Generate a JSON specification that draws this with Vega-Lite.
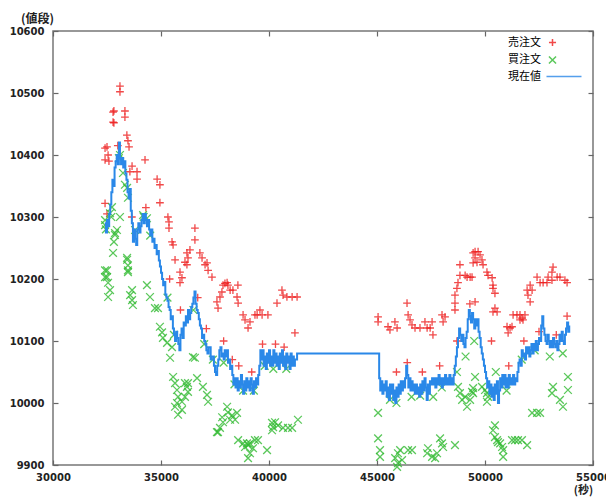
{
  "$schema": "https://vega.github.io/schema/vega-lite/v6.json",
  "width": 540,
  "height": 434,
  "autosize": {"type": "none"},
  "padding": {"left": 53, "top": 31, "right": 13, "bottom": 32},
  "background": "white",
  "config": {
    "view": {"stroke": "#777777", "strokeWidth": 1.5},
    "axis": {"grid": false, "domain": false, "tickColor": "#666666", "tickWidth": 1.2, "labelFont": "DejaVu Sans", "labelFontWeight": "bold", "labelFontSize": 10, "labelColor": "#222222"}
  },
  "datasets": {
    "orders": [
      {"t":32410,"p":10322,"s":"売注文"},{"t":32410,"p":10411,"s":"売注文"},{"t":32500,"p":10413,"s":"売注文"},{"t":32550,"p":10400,"s":"売注文"},{"t":32410,"p":10392,"s":"売注文"},{"t":32590,"p":10390,"s":"売注文"},{"t":32780,"p":10469,"s":"売注文"},{"t":32780,"p":10453,"s":"売注文"},{"t":32820,"p":10471,"s":"売注文"},{"t":32820,"p":10452,"s":"売注文"},{"t":33100,"p":10511,"s":"売注文"},{"t":33100,"p":10502,"s":"売注文"},{"t":33330,"p":10471,"s":"売注文"},{"t":33330,"p":10461,"s":"売注文"},{"t":33420,"p":10432,"s":"売注文"},{"t":33470,"p":10423,"s":"売注文"},{"t":33520,"p":10413,"s":"売注文"},{"t":33560,"p":10373,"s":"売注文"},{"t":33660,"p":10382,"s":"売注文"},{"t":33890,"p":10373,"s":"売注文"},{"t":33890,"p":10361,"s":"売注文"},{"t":34260,"p":10392,"s":"売注文"},{"t":34820,"p":10361,"s":"売注文"},{"t":34950,"p":10352,"s":"売注文"},{"t":34950,"p":10323,"s":"売注文"},{"t":35320,"p":10300,"s":"売注文"},{"t":35370,"p":10292,"s":"売注文"},{"t":35370,"p":10282,"s":"売注文"},{"t":35510,"p":10260,"s":"売注文"},{"t":35560,"p":10255,"s":"売注文"},{"t":35650,"p":10231,"s":"売注文"},{"t":35880,"p":10211,"s":"売注文"},{"t":35970,"p":10202,"s":"売注文"},{"t":35880,"p":10194,"s":"売注文"},{"t":36110,"p":10227,"s":"売注文"},{"t":36200,"p":10242,"s":"売注文"},{"t":36250,"p":10234,"s":"売注文"},{"t":36200,"p":10223,"s":"売注文"},{"t":36340,"p":10247,"s":"売注文"},{"t":36570,"p":10282,"s":"売注文"},{"t":36570,"p":10263,"s":"売注文"},{"t":36800,"p":10242,"s":"売注文"},{"t":36900,"p":10234,"s":"売注文"},{"t":37040,"p":10223,"s":"売注文"},{"t":37130,"p":10226,"s":"売注文"},{"t":37180,"p":10214,"s":"売注文"},{"t":37360,"p":10203,"s":"売注文"},{"t":37590,"p":10163,"s":"売注文"},{"t":37640,"p":10153,"s":"売注文"},{"t":37820,"p":10179,"s":"売注文"},{"t":37730,"p":10171,"s":"売注文"},{"t":37870,"p":10190,"s":"売注文"},{"t":38060,"p":10194,"s":"売注文"},{"t":37960,"p":10193,"s":"売注文"},{"t":38100,"p":10190,"s":"売注文"},{"t":38200,"p":10182,"s":"売注文"},{"t":38330,"p":10182,"s":"売注文"},{"t":38560,"p":10190,"s":"売注文"},{"t":38520,"p":10171,"s":"売注文"},{"t":38570,"p":10161,"s":"売注文"},{"t":38800,"p":10142,"s":"売注文"},{"t":38890,"p":10134,"s":"売注文"},{"t":39120,"p":10131,"s":"売注文"},{"t":39030,"p":10121,"s":"売注文"},{"t":39350,"p":10142,"s":"売注文"},{"t":39450,"p":10142,"s":"売注文"},{"t":39580,"p":10150,"s":"売注文"},{"t":39680,"p":10142,"s":"売注文"},{"t":39950,"p":10142,"s":"売注文"},{"t":40370,"p":10161,"s":"売注文"},{"t":40600,"p":10182,"s":"売注文"},{"t":40650,"p":10174,"s":"売注文"},{"t":40830,"p":10171,"s":"売注文"},{"t":41070,"p":10171,"s":"売注文"},{"t":41300,"p":10171,"s":"売注文"},{"t":41200,"p":10113,"s":"売注文"},
      {"t":32500,"p":10305,"s":"売注文"},{"t":33000,"p":10415,"s":"売注文"},{"t":33650,"p":10300,"s":"売注文"},{"t":34300,"p":10315,"s":"売注文"},{"t":35400,"p":10200,"s":"売注文"},{"t":35900,"p":10150,"s":"売注文"},{"t":36700,"p":10170,"s":"売注文"},{"t":37100,"p":10120,"s":"売注文"},{"t":37900,"p":10100,"s":"売注文"},{"t":38300,"p":10070,"s":"売注文"},{"t":38600,"p":10060,"s":"売注文"},{"t":39200,"p":10050,"s":"売注文"},{"t":39700,"p":10095,"s":"売注文"},{"t":40300,"p":10095,"s":"売注文"},{"t":40700,"p":10090,"s":"売注文"},
      {"t":45050,"p":10139,"s":"売注文"},{"t":45050,"p":10131,"s":"売注文"},{"t":45510,"p":10123,"s":"売注文"},{"t":45600,"p":10118,"s":"売注文"},{"t":45830,"p":10131,"s":"売注文"},{"t":45930,"p":10121,"s":"売注文"},{"t":46390,"p":10161,"s":"売注文"},{"t":46440,"p":10142,"s":"売注文"},{"t":46530,"p":10134,"s":"売注文"},{"t":46620,"p":10126,"s":"売注文"},{"t":46760,"p":10121,"s":"売注文"},{"t":46990,"p":10121,"s":"売注文"},{"t":47220,"p":10131,"s":"売注文"},{"t":47320,"p":10121,"s":"売注文"},{"t":47460,"p":10121,"s":"売注文"},{"t":47590,"p":10110,"s":"売注文"},{"t":47550,"p":10131,"s":"売注文"},{"t":48010,"p":10142,"s":"売注文"},{"t":48150,"p":10139,"s":"売注文"},{"t":48060,"p":10131,"s":"売注文"},{"t":48610,"p":10174,"s":"売注文"},{"t":48610,"p":10161,"s":"売注文"},{"t":48610,"p":10150,"s":"売注文"},{"t":48700,"p":10185,"s":"売注文"},{"t":48750,"p":10194,"s":"売注文"},{"t":48840,"p":10206,"s":"売注文"},{"t":48840,"p":10223,"s":"売注文"},{"t":49080,"p":10206,"s":"売注文"},{"t":49170,"p":10203,"s":"売注文"},{"t":49310,"p":10203,"s":"売注文"},{"t":49400,"p":10203,"s":"売注文"},{"t":49450,"p":10242,"s":"売注文"},{"t":49540,"p":10234,"s":"売注文"},{"t":49630,"p":10227,"s":"売注文"},{"t":49450,"p":10226,"s":"売注文"},{"t":49540,"p":10244,"s":"売注文"},{"t":49680,"p":10244,"s":"売注文"},{"t":49770,"p":10239,"s":"売注文"},{"t":49860,"p":10231,"s":"売注文"},{"t":49910,"p":10223,"s":"売注文"},{"t":50090,"p":10211,"s":"売注文"},{"t":50140,"p":10206,"s":"売注文"},{"t":50330,"p":10202,"s":"売注文"},{"t":50370,"p":10190,"s":"売注文"},{"t":50370,"p":10185,"s":"売注文"},{"t":50460,"p":10177,"s":"売注文"},{"t":49540,"p":10163,"s":"売注文"},{"t":50460,"p":10153,"s":"売注文"},{"t":50560,"p":10147,"s":"売注文"},{"t":50370,"p":10147,"s":"売注文"},{"t":51300,"p":10142,"s":"売注文"},{"t":51480,"p":10142,"s":"売注文"},{"t":51620,"p":10142,"s":"売注文"},{"t":51710,"p":10137,"s":"売注文"},{"t":51850,"p":10142,"s":"売注文"},{"t":51760,"p":10134,"s":"売注文"},{"t":51620,"p":10134,"s":"売注文"},{"t":51020,"p":10123,"s":"売注文"},{"t":51160,"p":10121,"s":"売注文"},{"t":51250,"p":10123,"s":"売注文"},{"t":51070,"p":10113,"s":"売注文"},{"t":51950,"p":10182,"s":"売注文"},{"t":51990,"p":10174,"s":"売注文"},{"t":52090,"p":10163,"s":"売注文"},{"t":52180,"p":10182,"s":"売注文"},{"t":52090,"p":10190,"s":"売注文"},{"t":52410,"p":10203,"s":"売注文"},{"t":52550,"p":10194,"s":"売注文"},{"t":52690,"p":10194,"s":"売注文"},{"t":52870,"p":10194,"s":"売注文"},{"t":52920,"p":10203,"s":"売注文"},{"t":53100,"p":10211,"s":"売注文"},{"t":53150,"p":10219,"s":"売注文"},{"t":53340,"p":10203,"s":"売注文"},{"t":53470,"p":10203,"s":"売注文"},{"t":53700,"p":10198,"s":"売注文"},{"t":53800,"p":10194,"s":"売注文"},{"t":53100,"p":10198,"s":"売注文"},
      {"t":45900,"p":10050,"s":"売注文"},{"t":46400,"p":10065,"s":"売注文"},{"t":47100,"p":10050,"s":"売注文"},{"t":47900,"p":10060,"s":"売注文"},{"t":48700,"p":10100,"s":"売注文"},{"t":49300,"p":10160,"s":"売注文"},{"t":50300,"p":10100,"s":"売注文"},{"t":51100,"p":10060,"s":"売注文"},{"t":51800,"p":10100,"s":"売注文"},{"t":52500,"p":10115,"s":"売注文"},{"t":53300,"p":10110,"s":"売注文"},{"t":53800,"p":10140,"s":"売注文"},
      {"t":33100,"p":10400,"s":"買注文"},{"t":33240,"p":10371,"s":"買注文"},{"t":33330,"p":10352,"s":"買注文"},{"t":33430,"p":10347,"s":"買注文"},{"t":33470,"p":10331,"s":"買注文"},{"t":32730,"p":10316,"s":"買注文"},{"t":32640,"p":10306,"s":"買注文"},{"t":33100,"p":10300,"s":"買注文"},{"t":32410,"p":10295,"s":"買注文"},{"t":32410,"p":10287,"s":"買注文"},{"t":32960,"p":10279,"s":"買注文"},{"t":32870,"p":10271,"s":"買注文"},{"t":32820,"p":10260,"s":"買注文"},{"t":32780,"p":10242,"s":"買注文"},{"t":32410,"p":10214,"s":"買注文"},{"t":32410,"p":10203,"s":"買注文"},{"t":33430,"p":10231,"s":"買注文"},{"t":33470,"p":10214,"s":"買注文"},{"t":33800,"p":10279,"s":"買注文"},{"t":34170,"p":10303,"s":"買注文"},{"t":34350,"p":10298,"s":"買注文"},{"t":32870,"p":10274,"s":"買注文"},{"t":32500,"p":10214,"s":"買注文"},{"t":32500,"p":10203,"s":"買注文"},{"t":32550,"p":10194,"s":"買注文"},{"t":32640,"p":10182,"s":"買注文"},{"t":32550,"p":10171,"s":"買注文"},{"t":33430,"p":10234,"s":"買注文"},{"t":33470,"p":10222,"s":"買注文"},{"t":33470,"p":10211,"s":"買注文"},{"t":33660,"p":10182,"s":"買注文"},{"t":33570,"p":10174,"s":"買注文"},{"t":33660,"p":10166,"s":"買注文"},{"t":33700,"p":10158,"s":"買注文"},{"t":34350,"p":10190,"s":"買注文"},{"t":34490,"p":10171,"s":"買注文"},{"t":34720,"p":10153,"s":"買注文"},{"t":34860,"p":10153,"s":"買注文"},{"t":34950,"p":10123,"s":"買注文"},{"t":35050,"p":10114,"s":"買注文"},{"t":35090,"p":10105,"s":"買注文"},{"t":35280,"p":10097,"s":"買注文"},{"t":35510,"p":10090,"s":"買注文"},{"t":35420,"p":10073,"s":"買注文"},{"t":35560,"p":10042,"s":"買注文"},{"t":35650,"p":10032,"s":"買注文"},{"t":35740,"p":10021,"s":"買注文"},{"t":35790,"p":10010,"s":"買注文"},{"t":35740,"p":10000,"s":"買注文"},{"t":35970,"p":10002,"s":"買注文"},{"t":36110,"p":10032,"s":"買注文"},{"t":36250,"p":10032,"s":"買注文"},{"t":36480,"p":10074,"s":"買注文"},{"t":35650,"p":9994,"s":"買注文"},{"t":35790,"p":9981,"s":"買注文"},{"t":35970,"p":9989,"s":"買注文"},{"t":36200,"p":10026,"s":"買注文"},{"t":36250,"p":10018,"s":"買注文"},{"t":36110,"p":10010,"s":"買注文"},{"t":36570,"p":10073,"s":"買注文"},{"t":36670,"p":10040,"s":"買注文"},{"t":36940,"p":10026,"s":"買注文"},{"t":37130,"p":10013,"s":"買注文"},{"t":37180,"p":10002,"s":"買注文"},{"t":37590,"p":9953,"s":"買注文"},{"t":37830,"p":9977,"s":"買注文"},{"t":37870,"p":9969,"s":"買注文"},{"t":38060,"p":9994,"s":"買注文"},{"t":38200,"p":9973,"s":"買注文"},{"t":38430,"p":9973,"s":"買注文"},{"t":38520,"p":9984,"s":"買注文"},{"t":38570,"p":9940,"s":"買注文"},{"t":38800,"p":9935,"s":"買注文"},{"t":38980,"p":9935,"s":"買注文"},{"t":39120,"p":9935,"s":"買注文"},{"t":39260,"p":9927,"s":"買注文"},{"t":39350,"p":9940,"s":"買注文"},{"t":39490,"p":9940,"s":"買注文"},{"t":39030,"p":9911,"s":"買注文"},{"t":39120,"p":9919,"s":"買注文"},{"t":39030,"p":9932,"s":"買注文"},{"t":38890,"p":9929,"s":"買注文"},{"t":39910,"p":9924,"s":"買注文"},{"t":40140,"p":9968,"s":"買注文"},{"t":40140,"p":9956,"s":"買注文"},{"t":40190,"p":9961,"s":"買注文"},{"t":40280,"p":9969,"s":"買注文"},{"t":40420,"p":9964,"s":"買注文"},{"t":40650,"p":9960,"s":"買注文"},{"t":40880,"p":9960,"s":"買注文"},{"t":41070,"p":9960,"s":"買注文"},{"t":41340,"p":9973,"s":"買注文"},{"t":37730,"p":9960,"s":"買注文"},{"t":37640,"p":9953,"s":"買注文"},{"t":38100,"p":9985,"s":"買注文"},{"t":38290,"p":9980,"s":"買注文"},
      {"t":32450,"p":10280,"s":"買注文"},{"t":32700,"p":10300,"s":"買注文"},{"t":33050,"p":10395,"s":"買注文"},{"t":34200,"p":10300,"s":"買注文"},{"t":34500,"p":10270,"s":"買注文"},{"t":35300,"p":10170,"s":"買注文"},{"t":35600,"p":10110,"s":"買注文"},{"t":36500,"p":10150,"s":"買注文"},{"t":37000,"p":10095,"s":"買注文"},{"t":37400,"p":10070,"s":"買注文"},{"t":37900,"p":10065,"s":"買注文"},{"t":38400,"p":10030,"s":"買注文"},{"t":38800,"p":10020,"s":"買注文"},{"t":39300,"p":10020,"s":"買注文"},{"t":39800,"p":10060,"s":"買注文"},{"t":40200,"p":10055,"s":"買注文"},{"t":40800,"p":10055,"s":"買注文"},
      {"t":45050,"p":9984,"s":"買注文"},{"t":45050,"p":9943,"s":"買注文"},{"t":45140,"p":9924,"s":"買注文"},{"t":45140,"p":9913,"s":"買注文"},{"t":45840,"p":9911,"s":"買注文"},{"t":45970,"p":9919,"s":"買注文"},{"t":46070,"p":9924,"s":"買注文"},{"t":46160,"p":9908,"s":"買注文"},{"t":45970,"p":9903,"s":"買注文"},{"t":45930,"p":9897,"s":"買注文"},{"t":46440,"p":9924,"s":"買注文"},{"t":46620,"p":9924,"s":"買注文"},{"t":47320,"p":9919,"s":"買注文"},{"t":47360,"p":9927,"s":"買注文"},{"t":47550,"p":9913,"s":"買注文"},{"t":47690,"p":9911,"s":"買注文"},{"t":47780,"p":9919,"s":"買注文"},{"t":47920,"p":9943,"s":"買注文"},{"t":48010,"p":9935,"s":"買注文"},{"t":48060,"p":9929,"s":"買注文"},{"t":48610,"p":9932,"s":"買注文"},{"t":48750,"p":10026,"s":"買注文"},{"t":48840,"p":10016,"s":"買注文"},{"t":48940,"p":10005,"s":"買注文"},{"t":49080,"p":10010,"s":"買注文"},{"t":49170,"p":9994,"s":"買注文"},{"t":49540,"p":10042,"s":"買注文"},{"t":49450,"p":10024,"s":"買注文"},{"t":49400,"p":10018,"s":"買注文"},{"t":49310,"p":10005,"s":"買注文"},{"t":49450,"p":10016,"s":"買注文"},{"t":49860,"p":10026,"s":"買注文"},{"t":50000,"p":10021,"s":"買注文"},{"t":50090,"p":10016,"s":"買注文"},{"t":50140,"p":10010,"s":"買注文"},{"t":50090,"p":10002,"s":"買注文"},{"t":50460,"p":9964,"s":"買注文"},{"t":50370,"p":9956,"s":"買注文"},{"t":50460,"p":9945,"s":"買注文"},{"t":50560,"p":9940,"s":"買注文"},{"t":50600,"p":9937,"s":"買注文"},{"t":50790,"p":9929,"s":"買注文"},{"t":50840,"p":9924,"s":"買注文"},{"t":50840,"p":9913,"s":"買注文"},{"t":50700,"p":9935,"s":"買注文"},{"t":51250,"p":9940,"s":"買注文"},{"t":51390,"p":9940,"s":"買注文"},{"t":51530,"p":9940,"s":"買注文"},{"t":51710,"p":9940,"s":"買注文"},{"t":51950,"p":9932,"s":"買注文"},{"t":52180,"p":9984,"s":"買注文"},{"t":52410,"p":9984,"s":"買注文"},{"t":52550,"p":9984,"s":"買注文"},{"t":53100,"p":10016,"s":"買注文"},{"t":53150,"p":10026,"s":"買注文"},{"t":53470,"p":10005,"s":"買注文"},{"t":53610,"p":9994,"s":"買注文"},{"t":53840,"p":10042,"s":"買注文"},{"t":53840,"p":10021,"s":"買注文"},
      {"t":45600,"p":10005,"s":"買注文"},{"t":45900,"p":10000,"s":"買注文"},{"t":46600,"p":10010,"s":"買注文"},{"t":47000,"p":10012,"s":"買注文"},{"t":47600,"p":10010,"s":"買注文"},{"t":48000,"p":10025,"s":"買注文"},{"t":48700,"p":10050,"s":"買注文"},{"t":49100,"p":10075,"s":"買注文"},{"t":49500,"p":10100,"s":"買注文"},{"t":50500,"p":10050,"s":"買注文"},{"t":51000,"p":10020,"s":"買注文"},{"t":51700,"p":10070,"s":"買注文"},{"t":52300,"p":10085,"s":"買注文"},{"t":53000,"p":10075,"s":"買注文"},{"t":53600,"p":10080,"s":"買注文"}
    ],
    "price": [
      {"t":32400,"p":10290},{"t":32450,"p":10275},{"t":32500,"p":10295},{"t":32550,"p":10285},{"t":32600,"p":10305},{"t":32650,"p":10320},{"t":32700,"p":10340},{"t":32750,"p":10360},{"t":32800,"p":10350},{"t":32850,"p":10380},{"t":32900,"p":10390},{"t":32950,"p":10400},{"t":33000,"p":10385},{"t":33050,"p":10420},{"t":33100,"p":10395},{"t":33150,"p":10385},{"t":33200,"p":10395},{"t":33250,"p":10380},{"t":33300,"p":10390},{"t":33350,"p":10370},{"t":33400,"p":10360},{"t":33450,"p":10340},{"t":33500,"p":10330},{"t":33550,"p":10345},{"t":33600,"p":10310},{"t":33650,"p":10290},{"t":33700,"p":10260},{"t":33750,"p":10280},{"t":33800,"p":10265},{"t":33850,"p":10255},{"t":33900,"p":10280},{"t":33950,"p":10290},{"t":34000,"p":10275},{"t":34050,"p":10285},{"t":34100,"p":10295},{"t":34150,"p":10305},{"t":34200,"p":10290},{"t":34250,"p":10305},{"t":34300,"p":10295},{"t":34350,"p":10285},{"t":34400,"p":10295},{"t":34450,"p":10280},{"t":34500,"p":10270},{"t":34550,"p":10280},{"t":34600,"p":10260},{"t":34650,"p":10265},{"t":34700,"p":10250},{"t":34750,"p":10255},{"t":34800,"p":10240},{"t":34850,"p":10245},{"t":34900,"p":10230},{"t":34950,"p":10220},{"t":35000,"p":10210},{"t":35050,"p":10200},{"t":35100,"p":10190},{"t":35150,"p":10195},{"t":35200,"p":10175},{"t":35250,"p":10170},{"t":35300,"p":10165},{"t":35350,"p":10155},{"t":35400,"p":10150},{"t":35450,"p":10135},{"t":35500,"p":10140},{"t":35550,"p":10120},{"t":35600,"p":10110},{"t":35650,"p":10100},{"t":35700,"p":10115},{"t":35750,"p":10105},{"t":35800,"p":10095},{"t":35850,"p":10085},{"t":35900,"p":10110},{"t":35950,"p":10120},{"t":36000,"p":10105},{"t":36050,"p":10130},{"t":36100,"p":10125},{"t":36150,"p":10140},{"t":36200,"p":10130},{"t":36250,"p":10150},{"t":36300,"p":10135},{"t":36350,"p":10145},{"t":36400,"p":10155},{"t":36450,"p":10160},{"t":36500,"p":10170},{"t":36550,"p":10180},{"t":36600,"p":10160},{"t":36650,"p":10150},{"t":36700,"p":10145},{"t":36750,"p":10135},{"t":36800,"p":10125},{"t":36850,"p":10120},{"t":36900,"p":10105},{"t":36950,"p":10110},{"t":37000,"p":10100},{"t":37050,"p":10095},{"t":37100,"p":10085},{"t":37150,"p":10080},{"t":37200,"p":10090},{"t":37300,"p":10070},{"t":37350,"p":10075},{"t":37450,"p":10060},{"t":37500,"p":10050},{"t":37550,"p":10045},{"t":37600,"p":10060},{"t":37650,"p":10070},{"t":37700,"p":10085},{"t":37750,"p":10090},{"t":37800,"p":10075},{"t":37850,"p":10080},{"t":37900,"p":10070},{"t":37950,"p":10085},{"t":38000,"p":10075},{"t":38050,"p":10085},{"t":38100,"p":10065},{"t":38150,"p":10070},{"t":38200,"p":10055},{"t":38250,"p":10060},{"t":38300,"p":10045},{"t":38350,"p":10030},{"t":38400,"p":10040},{"t":38450,"p":10025},{"t":38500,"p":10040},{"t":38550,"p":10020},{"t":38600,"p":10035},{"t":38650,"p":10025},{"t":38700,"p":10045},{"t":38750,"p":10030},{"t":38800,"p":10015},{"t":38850,"p":10035},{"t":38900,"p":10020},{"t":38950,"p":10040},{"t":39000,"p":10025},{"t":39050,"p":10035},{"t":39100,"p":10020},{"t":39150,"p":10040},{"t":39200,"p":10030},{"t":39250,"p":10015},{"t":39300,"p":10035},{"t":39350,"p":10025},{"t":39400,"p":10040},{"t":39450,"p":10030},{"t":39500,"p":10045},{"t":39550,"p":10060},{"t":39600,"p":10085},{"t":39650,"p":10070},{"t":39700,"p":10085},{"t":39750,"p":10060},{"t":39800,"p":10075},{"t":39850,"p":10055},{"t":39900,"p":10080},{"t":39950,"p":10065},{"t":40000,"p":10085},{"t":40050,"p":10060},{"t":40100,"p":10075},{"t":40150,"p":10060},{"t":40200,"p":10085},{"t":40250,"p":10065},{"t":40300,"p":10080},{"t":40350,"p":10060},{"t":40400,"p":10075},{"t":40450,"p":10055},{"t":40500,"p":10080},{"t":40550,"p":10065},{"t":40600,"p":10085},{"t":40650,"p":10060},{"t":40700,"p":10075},{"t":40750,"p":10055},{"t":40800,"p":10080},{"t":40850,"p":10065},{"t":40900,"p":10075},{"t":40950,"p":10055},{"t":41000,"p":10080},{"t":41050,"p":10060},{"t":41100,"p":10075},{"t":41150,"p":10060},{"t":41200,"p":10070},{"t":41300,"p":10080},
      {"t":45050,"p":10080},{"t":45100,"p":10040},{"t":45150,"p":10020},{"t":45200,"p":10035},{"t":45250,"p":10015},{"t":45300,"p":10030},{"t":45350,"p":10020},{"t":45400,"p":10035},{"t":45450,"p":10010},{"t":45500,"p":10025},{"t":45550,"p":10005},{"t":45600,"p":10030},{"t":45650,"p":10015},{"t":45700,"p":10030},{"t":45750,"p":10005},{"t":45800,"p":10020},{"t":45850,"p":10000},{"t":45900,"p":10025},{"t":45950,"p":10010},{"t":46000,"p":10030},{"t":46050,"p":10015},{"t":46100,"p":10035},{"t":46150,"p":10020},{"t":46200,"p":10035},{"t":46250,"p":10025},{"t":46300,"p":10040},{"t":46350,"p":10060},{"t":46400,"p":10045},{"t":46450,"p":10025},{"t":46500,"p":10040},{"t":46550,"p":10020},{"t":46600,"p":10035},{"t":46650,"p":10020},{"t":46700,"p":10030},{"t":46750,"p":10015},{"t":46800,"p":10030},{"t":46850,"p":10015},{"t":46900,"p":10025},{"t":46950,"p":10010},{"t":47000,"p":10030},{"t":47050,"p":10015},{"t":47100,"p":10035},{"t":47150,"p":10020},{"t":47200,"p":10040},{"t":47250,"p":10025},{"t":47300,"p":10005},{"t":47350,"p":10030},{"t":47400,"p":10015},{"t":47450,"p":10035},{"t":47500,"p":10030},{"t":47550,"p":10040},{"t":47600,"p":10030},{"t":47650,"p":10040},{"t":47700,"p":10025},{"t":47750,"p":10040},{"t":47800,"p":10030},{"t":47850,"p":10045},{"t":47900,"p":10030},{"t":47950,"p":10040},{"t":48000,"p":10025},{"t":48050,"p":10040},{"t":48100,"p":10030},{"t":48150,"p":10045},{"t":48200,"p":10030},{"t":48250,"p":10040},{"t":48300,"p":10030},{"t":48350,"p":10045},{"t":48400,"p":10030},{"t":48450,"p":10040},{"t":48500,"p":10030},{"t":48550,"p":10045},{"t":48600,"p":10060},{"t":48650,"p":10075},{"t":48700,"p":10090},{"t":48750,"p":10105},{"t":48800,"p":10120},{"t":48850,"p":10110},{"t":48900,"p":10100},{"t":48950,"p":10110},{"t":49000,"p":10095},{"t":49050,"p":10090},{"t":49100,"p":10105},{"t":49150,"p":10115},{"t":49200,"p":10135},{"t":49250,"p":10150},{"t":49300,"p":10140},{"t":49350,"p":10130},{"t":49400,"p":10145},{"t":49450,"p":10135},{"t":49500,"p":10120},{"t":49550,"p":10135},{"t":49600,"p":10125},{"t":49650,"p":10135},{"t":49700,"p":10115},{"t":49750,"p":10105},{"t":49800,"p":10090},{"t":49850,"p":10080},{"t":49900,"p":10070},{"t":49950,"p":10060},{"t":50000,"p":10050},{"t":50050,"p":10040},{"t":50100,"p":10025},{"t":50150,"p":10035},{"t":50200,"p":10015},{"t":50250,"p":10030},{"t":50300,"p":10010},{"t":50350,"p":10025},{"t":50400,"p":10005},{"t":50450,"p":10030},{"t":50500,"p":10015},{"t":50550,"p":10035},{"t":50600,"p":10000},{"t":50650,"p":10020},{"t":50700,"p":10040},{"t":50750,"p":10025},{"t":50800,"p":10045},{"t":50850,"p":10030},{"t":50900,"p":10045},{"t":50950,"p":10025},{"t":51000,"p":10040},{"t":51050,"p":10025},{"t":51100,"p":10045},{"t":51150,"p":10030},{"t":51200,"p":10040},{"t":51250,"p":10030},{"t":51300,"p":10045},{"t":51350,"p":10030},{"t":51400,"p":10040},{"t":51450,"p":10035},{"t":51500,"p":10050},{"t":51550,"p":10065},{"t":51600,"p":10070},{"t":51650,"p":10060},{"t":51700,"p":10085},{"t":51750,"p":10075},{"t":51800,"p":10080},{"t":51850,"p":10070},{"t":51900,"p":10090},{"t":51950,"p":10080},{"t":52000,"p":10090},{"t":52050,"p":10075},{"t":52100,"p":10085},{"t":52150,"p":10095},{"t":52200,"p":10080},{"t":52250,"p":10095},{"t":52300,"p":10085},{"t":52350,"p":10100},{"t":52400,"p":10085},{"t":52450,"p":10095},{"t":52500,"p":10105},{"t":52550,"p":10100},{"t":52600,"p":10125},{"t":52650,"p":10140},{"t":52700,"p":10120},{"t":52750,"p":10110},{"t":52800,"p":10100},{"t":52850,"p":10095},{"t":52900,"p":10110},{"t":52950,"p":10100},{"t":53000,"p":10090},{"t":53050,"p":10100},{"t":53100,"p":10090},{"t":53150,"p":10105},{"t":53200,"p":10095},{"t":53250,"p":10090},{"t":53300,"p":10100},{"t":53350,"p":10085},{"t":53400,"p":10095},{"t":53450,"p":10110},{"t":53500,"p":10100},{"t":53550,"p":10115},{"t":53600,"p":10100},{"t":53650,"p":10095},{"t":53700,"p":10110},{"t":53750,"p":10120},{"t":53800,"p":10130},{"t":53850,"p":10115},{"t":53900,"p":10125}
    ]
  },
  "layer": [
    {
      "data": {"name": "orders"},
      "mark": {"type": "point", "filled": false, "size": 60, "strokeWidth": 1.3, "opacity": 0.8},
      "encoding": {
        "x": {"field": "t", "type": "quantitative", "scale": {"domain": [30000, 55000], "nice": false, "zero": false},
              "axis": {"orient": "bottom", "values": [30000, 35000, 40000, 45000, 50000, 55000], "format": "d", "tickSize": -5, "labelPadding": 12, "labelFlush": false, "labelOverlap": false,
                       "title": "(秒)", "titleAngle": 0, "titleX": 530, "titleY": 25.5, "titleAlign": "center", "titleBaseline": "middle", "titleFont": "Noto Sans CJK JP", "titleFontSize": 11, "titleFontWeight": "bold", "titleColor": "#222222"}},
        "y": {"field": "p", "type": "quantitative", "scale": {"domain": [9900, 10600], "nice": false, "zero": false},
              "axis": {"orient": "left", "values": [9900, 10000, 10100, 10200, 10300, 10400, 10500, 10600], "format": "d", "tickSize": -5, "labelPadding": 14, "labelOverlap": false,
                       "title": "(値段)", "titleAngle": 0, "titleX": -16, "titleY": -13, "titleAlign": "center", "titleBaseline": "middle", "titleFont": "Noto Sans CJK JP", "titleFontSize": 12, "titleFontWeight": "bold", "titleColor": "#222222"}},
        "color": {"field": "s", "type": "nominal",
                  "scale": {"domain": ["売注文", "買注文", "現在値"], "range": ["#ee1c1c", "#33bb33", "#2a88e8"]},
                  "legend": {"orient": "none", "legendX": 494, "legendY": 6, "title": null, "labelAlign": "right", "labelOffset": -17, "labelFont": "Noto Sans CJK JP", "labelFontSize": 11, "labelColor": "#000000", "symbolSize": 50, "symbolStrokeWidth": 1.5, "rowPadding": 2.5}},
        "shape": {"field": "s", "type": "nominal",
                  "scale": {"domain": ["売注文", "買注文", "現在値"], "range": ["M-1,0L1,0M0,-1L0,1", "M-1,-1L1,1M-1,1L1,-1", "M-1.7,0L8.2,0"]},
                  "legend": {"orient": "none", "legendX": 494, "legendY": 6, "title": null, "labelAlign": "right", "labelOffset": -17, "labelFont": "Noto Sans CJK JP", "labelFontSize": 11, "labelColor": "#000000", "symbolSize": 50, "symbolStrokeWidth": 1.5, "rowPadding": 2.5}}
      }
    },
    {
      "data": {"name": "price"},
      "transform": [{"calculate": "'現在値'", "as": "s"}],
      "mark": {"type": "line", "interpolate": "step-after", "strokeWidth": 2},
      "encoding": {
        "x": {"field": "t", "type": "quantitative",
              "axis": {"orient": "top", "values": [30000, 35000, 40000, 45000, 50000, 55000], "labels": false, "tickSize": -5, "title": null}},
        "y": {"field": "p", "type": "quantitative",
              "axis": {"orient": "right", "values": [9900, 10000, 10100, 10200, 10300, 10400, 10500, 10600], "labels": false, "tickSize": -5, "title": null}},
        "color": {"field": "s", "type": "nominal"}
      }
    }
  ],
  "resolve": {"axis": {"x": "independent", "y": "independent"}}
}
